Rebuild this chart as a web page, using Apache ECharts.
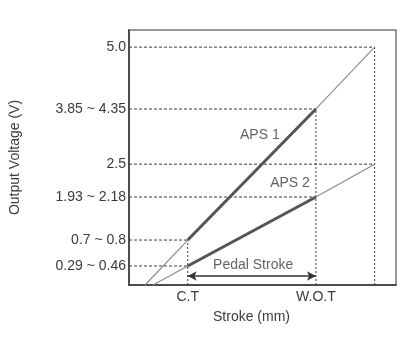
<!DOCTYPE html>
<html>
<head>
<meta charset="utf-8">
<script src="https://cdn.jsdelivr.net/npm/echarts@6/dist/echarts.min.js"></script>
<style>
  html, body { margin: 0; padding: 0; background: #fff; }
  #chart { width: 402px; height: 354px; }
</style>
</head>
<body>
<div id="chart"></div>
<script>
// schematic levels on the voltage axis (drawn positions) and their labels
const levelLabels = ['0.29 ~ 0.46', '0.7 ~ 0.8', '1.93 ~ 2.18', '2.5', '3.85 ~ 4.35', '5.0']
const levelPos = [0.40, 0.945, 1.85, 2.54, 3.70, 5.0]

// stroke positions
const strokeLabels = ['C.T', 'W.O.T']
const strokePos = [2.2, 7.0]

// APS curves: [stroke, level]
const aps1X = [0.6, 2.2, 7.0, 9.2]
const aps1Y = [0, 0.945, 3.70, 5.0]
const aps2X = [0.9, 2.2, 7.0, 9.2]
const aps2Y = [0, 0.40, 1.85, 2.54]

const pedalArrowY = 0.19
const notes = [
  { text: 'APS 1', x: 4.9, y: 3.15 },
  { text: 'APS 2', x: 6.03, y: 2.14 },
  { text: 'Pedal Stroke', x: 4.65, y: 0.42 }
]

const font = "'Liberation Sans', Arial, sans-serif"
const textColor = '#3a3a3a'
const fontSize = 14

const zip = (xs, ys) => xs.map((x, i) => [x, ys[i]])
const aps1 = zip(aps1X, aps1Y)
const aps2 = zip(aps2X, aps2Y)

function guide(points, dash) {
  return {
    type: 'line',
    data: points,
    symbol: 'none',
    silent: true,
    lineStyle: { color: '#3c3c3c', width: 1, type: dash },
    z: 1
  }
}

const guides = []
// horizontal dashed lines from the axis to each curve point
;[aps1, aps2].forEach(curve => {
  curve.slice(1).forEach(p => {
    guides.push(guide([[0, p[1]], [p[0], p[1]]], [3, 2]))
  })
})
// vertical dotted lines down from the APS 1 points
aps1.slice(1).forEach(p => {
  guides.push(guide([[p[0], 0], [p[0], p[1]]], [2, 2]))
})

const chart = echarts.init(document.getElementById('chart'))

chart.setOption({
  animation: false,
  textStyle: { fontFamily: font },
  grid: {
    left: 129, right: 6, top: 30, bottom: 69,
    show: true, borderColor: '#777', borderWidth: 1.5
  },
  xAxis: {
    type: 'value',
    min: 0,
    max: 10,
    splitLine: { show: false },
    axisTick: { show: false },
    axisLine: { lineStyle: { color: '#333', width: 1.5 } },
    axisLabel: {
      customValues: strokePos,
      formatter: v => strokeLabels[strokePos.indexOf(v)],
      color: textColor, fontSize: fontSize, fontFamily: font, margin: 5
    },
    name: 'Stroke (mm)',
    nameLocation: 'middle',
    nameGap: 25,
    nameTextStyle: { color: textColor, fontSize: fontSize, fontFamily: font, padding: [0, 22, 0, 0] }
  },
  yAxis: {
    type: 'value',
    min: 0,
    max: 5.36,
    splitLine: { show: false },
    axisTick: { show: false },
    axisLine: { lineStyle: { color: '#333', width: 1.5 } },
    axisLabel: {
      customValues: levelPos,
      formatter: v => levelLabels[levelPos.indexOf(v)],
      color: textColor, fontSize: fontSize, fontFamily: font, margin: 3
    },
    name: 'Output Voltage (V)',
    nameLocation: 'middle',
    nameGap: 107,
    nameTextStyle: { color: textColor, fontSize: fontSize, fontFamily: font }
  },
  series: guides.concat([
    {
      name: 'APS 1 thin',
      type: 'line',
      data: aps1,
      symbol: 'none',
      lineStyle: { color: '#8a8a8a', width: 1.1 },
      z: 2
    },
    {
      name: 'APS 2 thin',
      type: 'line',
      data: aps2,
      symbol: 'none',
      lineStyle: { color: '#8a8a8a', width: 1.1 },
      z: 2
    },
    {
      name: 'APS 1',
      type: 'line',
      data: aps1.slice(1, 3),
      symbol: 'none',
      lineStyle: { color: '#555', width: 3 },
      z: 3
    },
    {
      name: 'APS 2',
      type: 'line',
      data: aps2.slice(1, 3),
      symbol: 'none',
      lineStyle: { color: '#555', width: 3 },
      z: 3
    },
    {
      name: 'notes',
      type: 'scatter',
      symbolSize: 0,
      silent: true,
      data: notes.map(n => ({ value: [n.x, n.y], name: n.text })),
      label: {
        show: true,
        position: 'inside',
        formatter: p => p.name,
        color: textColor,
        fontSize: fontSize,
        fontFamily: font
      },
      markLine: {
        silent: true,
        symbol: ['arrow', 'arrow'],
        symbolSize: [7, 9],
        label: { show: false },
        lineStyle: { color: '#333', width: 1.5, type: 'solid' },
        data: [[
          { coord: [strokePos[0], pedalArrowY] },
          { coord: [strokePos[1], pedalArrowY] }
        ]]
      },
      z: 4
    }
  ])
})
</script>
</body>
</html>
